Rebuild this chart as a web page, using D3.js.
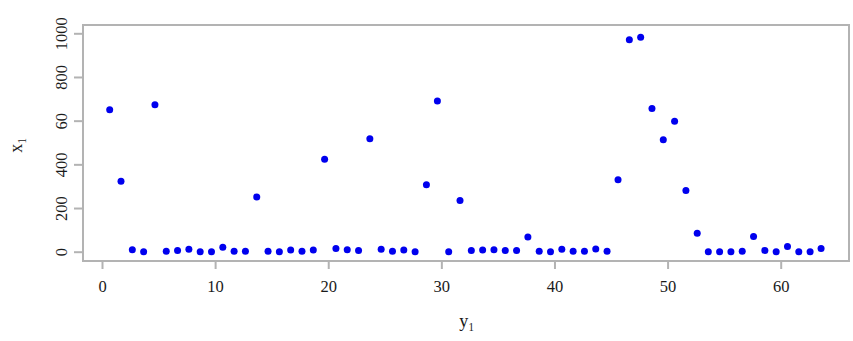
<!DOCTYPE html>
<html><head><meta charset="utf-8">
<script src="https://cdn.jsdelivr.net/npm/d3@7"></script>
<style>body{margin:0;background:#fff}svg{display:block}</style>
</head><body>
<svg id="c" width="853" height="341"></svg>
<script>
const xValues = [0.68,1.68,2.68,3.68,4.68,5.68,6.68,7.68,8.68,9.68,10.68,11.68,12.68,13.68,14.68,15.68,
  16.68,17.68,18.68,19.68,20.68,21.68,22.68,23.68,24.68,25.68,26.68,27.68,28.68,29.65,30.65,31.65,
  32.65,33.65,34.65,35.65,36.65,37.65,38.65,39.65,40.65,41.65,42.65,43.65,44.65,45.62,46.62,47.62,
  48.62,49.62,50.62,51.62,52.62,53.6,54.6,55.6,56.6,57.6,58.6,59.6,60.6,61.6,62.6,63.57];
const yValues = [650,323,9,0,673,2,5,11,0,0,20,2,2,251,2,0,
  8,2,8,423,15,9,5,517,11,2,8,0,307,690,0,234,
  5,8,9,6,5,67,2,0,11,2,2,12,2,329,970,982,
  656,513,597,280,84,0,0,0,2,70,6,0,24,0,0,15];
const xTicks = [0,10,20,30,40,50,60];
const yTicks = [0,200,400,600,800,1000];
const yTickLabels = ["0","200","400","60","800","1000"];
const xTitle = "y\u2081";
const yTitle = "x\u2081";

const svg = d3.select("#c");
const box = {left:83, right:849, top:25, bottom:261};
const x = d3.scaleLinear().domain([0,60]).range([102,780.7]);
const y = d3.scaleLinear().domain([0,1000]).range([251.7,33.3]);
const grey = "#b3b3b3";
const font = "'Liberation Serif','DejaVu Serif',serif";

// x axis
const xa = svg.append("g").attr("transform",`translate(0,${box.bottom})`)
  .call(d3.axisBottom(x).tickValues(xTicks).tickSize(8).tickPadding(11).tickFormat(d3.format("d")));
xa.select(".domain").remove();
xa.selectAll("line").attr("stroke",grey).attr("stroke-width",2);
xa.selectAll("text").attr("font-family",font).attr("font-size",16.5).attr("fill","#1a1a1a");

// y axis
const ya = svg.append("g").attr("transform",`translate(${box.left},0)`)
  .call(d3.axisLeft(y).tickValues(yTicks).tickSize(9).tickPadding(0).tickFormat((d,i)=>yTickLabels[i]));
ya.select(".domain").remove();
ya.selectAll("line").attr("stroke",grey).attr("stroke-width",2);
ya.selectAll("text").attr("font-family",font).attr("font-size",16.5).attr("fill","#1a1a1a")
  .attr("text-anchor","middle").attr("dy",0).attr("x",0)
  .attr("transform","translate(-20,0) rotate(-90)").attr("dominant-baseline","middle");

// frame
svg.append("rect").attr("x",box.left).attr("y",box.top)
  .attr("width",box.right-box.left).attr("height",box.bottom-box.top)
  .attr("fill","none").attr("stroke",grey).attr("stroke-width",2);

// points
svg.append("g").selectAll("circle").data(xValues.map((v,i)=>[v,yValues[i]])).join("circle")
  .attr("cx",d=>x(d[0])).attr("cy",d=>y(d[1])).attr("r",3.5).attr("fill","#0000ee");

// titles
svg.append("text").attr("x",467).attr("y",327).attr("text-anchor","middle")
  .attr("font-family",font).attr("font-size",18).attr("fill","#1a1a1a").text(xTitle);
svg.append("text").attr("transform","translate(22,145) rotate(-90)").attr("text-anchor","middle")
  .attr("font-family",font).attr("font-size",18).attr("fill","#1a1a1a").text(yTitle);
</script>
</body></html>
